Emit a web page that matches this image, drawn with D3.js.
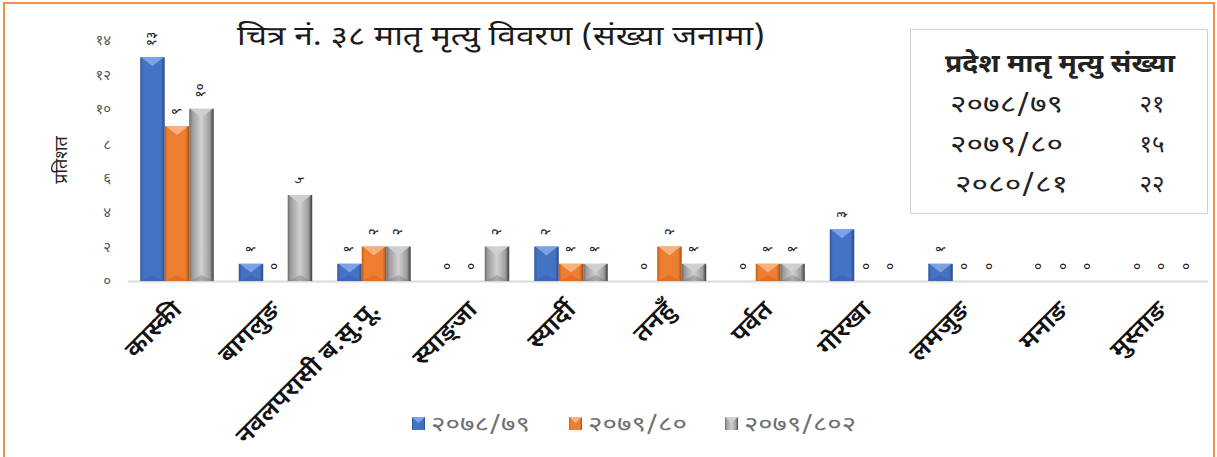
<!DOCTYPE html>
<html>
<head>
<meta charset="utf-8">
<script src="https://cdn.jsdelivr.net/npm/d3@7"></script>
<style>
  html, body { margin: 0; padding: 0; background: #fff; }
  svg { display: block; }
  text { font-family: "Noto Sans Devanagari", "Lohit Devanagari", "Mangal", "Kalimati", sans-serif; }
</style>
</head>
<body>
<svg id="chart" width="1217" height="457"></svg>
<script>
// Districts shown on the x axis
const categories = ["कास्की", "बागलुङ", "नवलपरासी ब.सु.पू.", "स्याङ्जा", "स्यार्दी", "तनहुँ", "पर्वत", "गोरखा", "लमजुङ", "मनाङ", "मुस्ताङ"];
// Fiscal years (legend)
const seriesNames = ["२०७८/७९", "२०७९/८०", "२०७९/८०२"];
// Maternal deaths per district for each fiscal year
const values2078 = [13, 1, 1, 0, 2, 0, 0, 3, 1, 0, 0];
const values2079 = [9, 0, 2, 0, 1, 2, 1, 0, 0, 0, 0];
const values2080 = [10, 5, 2, 2, 1, 1, 1, 0, 0, 0, 0];
// Y axis ticks
const yTicks = [0, 2, 4, 6, 8, 10, 12, 14];
// Province totals table
const totalYears = ["२०७८/७९", "२०७९/८०", "२०८०/८१"];
const totalCounts = [21, 15, 22];

const seriesValues = [values2078, values2079, values2080];
const colors = [
  { base: "#4472C4", light: "#7FA3E6", dark: "#2F5597", edge: "#284A86" },
  { base: "#ED7D31", light: "#F8B47F", dark: "#C55A11", edge: "#A9500F" },
  { base: "#9C9C9C", light: "#D0D0D0", dark: "#6A6A6A", edge: "#3A3A3A" }
];

const devDigits = "०१२३४५६७८९";
const toDev = n => String(n).replace(/[0-9]/g, d => devDigits[+d]);

const svg = d3.select("#chart");
const W = 1217, H = 457;

// outer frame
svg.append("rect").attr("x", 4).attr("y", 3).attr("width", W - 7).attr("height", H - 2)
  .attr("fill", "#fff").attr("stroke", "#F0904A").attr("stroke-width", 2);

// gradients for the bevelled bars
const defs = svg.append("defs");
colors.forEach((c, i) => {
  const g = defs.append("linearGradient").attr("id", "bar" + i)
    .attr("x1", "0%").attr("x2", "100%").attr("y1", "0%").attr("y2", "0%");
  g.append("stop").attr("offset", "0%").attr("stop-color", c.dark);
  g.append("stop").attr("offset", "12%").attr("stop-color", c.base);
  g.append("stop").attr("offset", "50%").attr("stop-color", i === 2 ? c.light : c.base);
  g.append("stop").attr("offset", "85%").attr("stop-color", c.base);
  g.append("stop").attr("offset", "100%").attr("stop-color", c.edge);
});

const x0 = d3.scaleBand().domain(categories).range([128, 1211]).paddingInner(0.254).paddingOuter(0.124);
const x1 = d3.scaleBand().domain(d3.range(seriesNames.length)).range([0, x0.bandwidth()]);
const y = d3.scaleLinear().domain([0, 14]).range([281, 40]);

// title
svg.append("text").attr("x", 237).attr("y", 45)
  .attr("font-size", 27).attr("fill", "#1a1a1a")
  .attr("textLength", 528).attr("lengthAdjust", "spacingAndGlyphs")
  .text("चित्र नं. ३८ मातृ मृत्यु विवरण (संख्या जनामा)");

// y axis labels
const yAxis = d3.axisLeft(y).tickValues(yTicks).tickFormat(toDev).tickSize(0).tickPadding(0);
const yg = svg.append("g").attr("transform", "translate(111,0)").call(yAxis);
yg.select(".domain").remove();
yg.selectAll("text").attr("font-size", 15).attr("fill", "#555")
  .style("font-family", "\"Noto Sans Devanagari\", \"Lohit Devanagari\", sans-serif");

svg.append("text").attr("transform", "translate(67,160) rotate(-90)")
  .attr("text-anchor", "middle").attr("font-size", 18).attr("fill", "#222").text("प्रतिशत");

// baseline
svg.append("line").attr("x1", 128).attr("x2", 1208).attr("y1", y(0) + 0.5).attr("y2", y(0) + 0.5)
  .attr("stroke", "#D9D9D9").attr("stroke-width", 2);

// bars
const groups = svg.append("g").selectAll("g").data(categories).join("g")
  .attr("transform", d => `translate(${x0(d)},0)`);

groups.each(function (cat, ci) {
  const g = d3.select(this);
  seriesValues.forEach((vals, si) => {
    const v = vals[ci];
    const bx = x1(si), bw = x1.bandwidth();
    if (v > 0) {
      const top = y(v), h = y(0) - top;
      g.append("rect").attr("x", bx).attr("y", top).attr("width", bw).attr("height", h)
        .attr("fill", `url(#bar${si})`);
      const th = Math.min(9, h / 2);
      g.append("polygon")
        .attr("points", [[bx + 1, top], [bx + bw - 1, top], [bx + bw / 2, top + th]].join(" "))
        .attr("fill", colors[si].light).attr("opacity", 0.95);
      g.append("polygon")
        .attr("points", [[bx + 1, y(0)], [bx + bw - 1, y(0)], [bx + bw / 2, y(0) - Math.min(6, h / 2)]].join(" "))
        .attr("fill", colors[si].dark).attr("opacity", 0.35);
    }
    // value label, rotated upward
    const lx = bx + bw / 2 + 4, ly = y(v) - 11;
    g.append("text").attr("transform", `translate(${lx},${ly}) rotate(-90)`)
      .attr("font-size", 14).attr("fill", "#222").attr("text-anchor", "start")
      .text(toDev(v));
  });
});

// category labels, slanted and stretched along the reading direction
const xAxis = d3.axisBottom(x0).tickSize(0).tickPadding(0);
const xg = svg.append("g").attr("transform", `translate(0,${y(0) + 18})`).call(xAxis);
xg.select(".domain").remove();
xg.selectAll("text")
  .attr("font-size", 24).attr("fill", "#111").attr("font-weight", 600)
  .attr("text-anchor", "end").attr("dy", 0)
  .attr("transform", "translate(6,12) rotate(-45) scale(1.1,1)")
  .style("font-family", "\"Noto Sans Devanagari\", \"Lohit Devanagari\", sans-serif");

// bottom legend
const legendX = [412, 569, 725];
const legendW = [99, 99, 112];
const lg = svg.append("g");
seriesNames.forEach((name, i) => {
  const gx = legendX[i];
  lg.append("rect").attr("x", gx).attr("y", 417).attr("width", 13).attr("height", 13)
    .attr("fill", `url(#bar${i})`);
  lg.append("polygon").attr("points", [[gx, 417], [gx + 13, 417], [gx + 6.5, 423]].join(" "))
    .attr("fill", colors[i].light);
  lg.append("text").attr("x", gx + 19).attr("y", 431).attr("font-size", 20).attr("fill", "#707070")
    .attr("textLength", legendW[i]).attr("lengthAdjust", "spacingAndGlyphs")
    .text(name);
});

// province totals box
const box = svg.append("g");
box.append("rect").attr("x", 910.5).attr("y", 29.5).attr("width", 297).attr("height", 184)
  .attr("fill", "#fff").attr("stroke", "#D0D0D0").attr("stroke-width", 1);
box.append("text").attr("x", 945).attr("y", 72)
  .attr("font-size", 25).attr("font-weight", "bold").attr("fill", "#222")
  .attr("textLength", 230).attr("lengthAdjust", "spacingAndGlyphs")
  .text("प्रदेश मातृ मृत्यु संख्या");
totalYears.forEach((yr, i) => {
  const by = 112 + i * 40;
  box.append("text").attr("x", 950 + (i === 2 ? 5 : 0)).attr("y", by)
    .attr("font-size", 24).attr("fill", "#222")
    .attr("textLength", 113).attr("lengthAdjust", "spacingAndGlyphs").text(yr);
  box.append("text").attr("x", 1152).attr("y", by).attr("text-anchor", "middle")
    .attr("font-size", 24).attr("fill", "#222").text(toDev(totalCounts[i]));
});
</script>
</body>
</html>
